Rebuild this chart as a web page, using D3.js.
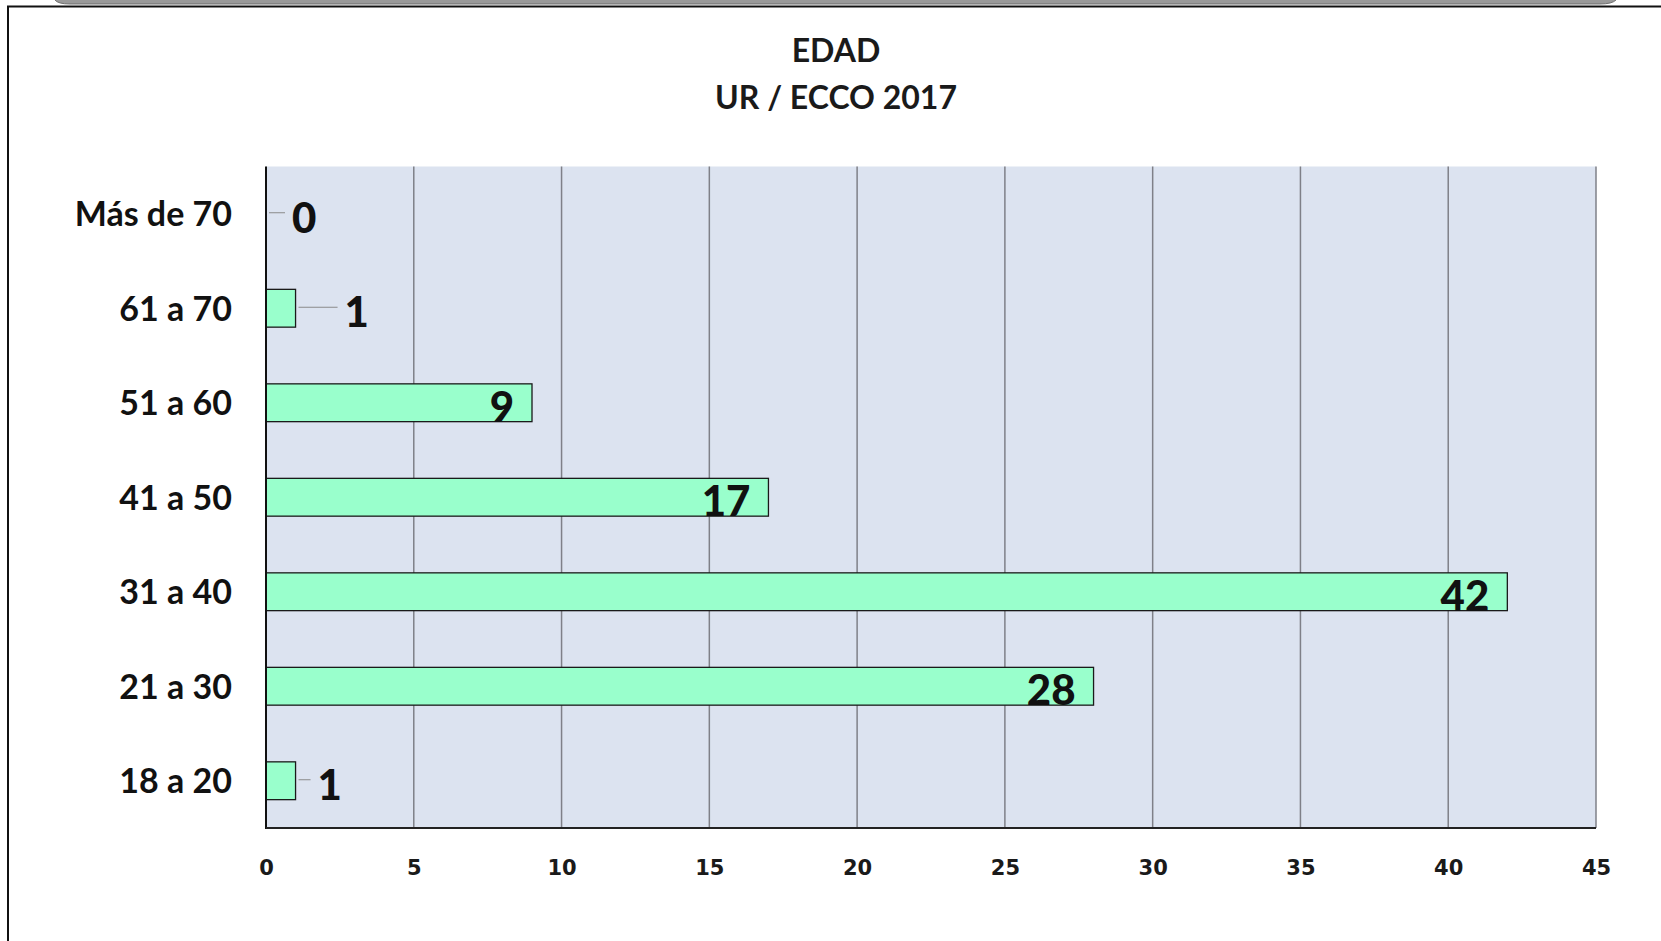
<!DOCTYPE html>
<html>
<head>
<meta charset="utf-8">
<script src="https://cdn.jsdelivr.net/npm/d3@7"></script>
<style>
  html, body { margin: 0; padding: 0; background: #ffffff; }
  svg { display: block; }
</style>
</head>
<body>
<script>
// ---- data ----
const categories = ["Más de 70", "61 a 70", "51 a 60", "41 a 50", "31 a 40", "21 a 30", "18 a 20"];
const values = [0, 1, 9, 17, 42, 28, 1];
const xTicks = [0, 5, 10, 15, 20, 25, 30, 35, 40, 45];
const titleLines = ["EDAD", "UR / ECCO 2017"];

// ---- layout ----
const W = 1661, H = 941;
const plot = { left: 266, right: 1596, top: 166.5, bottom: 828 };
const labelFont = "Lato, 'Open Sans', sans-serif";

const svg = d3.select("body").append("svg").attr("width", W).attr("height", H);

// decorative frame
svg.append("path")
  .attr("d", "M55,-10 L1616,-10 L1616,0 Q1612,4 1600,4 L70,4 Q58,4 55,0 Z")
  .attr("fill", "#9a9a9a").attr("stroke", "#6e6e6e").attr("stroke-width", 1);
svg.append("path")
  .attr("d", `M8,${H + 5} L8,6.5 L${W + 5},6.5`)
  .attr("fill", "none").attr("stroke", "#111").attr("stroke-width", 2);

const x = d3.scaleLinear().domain([0, 45]).range([plot.left, plot.right]);
const y = d3.scaleBand().domain(categories).range([plot.top, plot.bottom])
  .paddingInner(0.6).paddingOuter(0.3);

// plot background
svg.append("rect")
  .attr("x", plot.left).attr("y", plot.top)
  .attr("width", plot.right - plot.left).attr("height", plot.bottom - plot.top)
  .attr("fill", "#dce3f0");

// gridlines
svg.append("g").selectAll("line").data(xTicks.filter(t => t > 0)).join("line")
  .attr("x1", d => x(d)).attr("x2", d => x(d))
  .attr("y1", plot.top).attr("y2", plot.bottom)
  .attr("stroke", "#7f8088").attr("stroke-width", 1.5);

// x axis
const xAxis = svg.append("g")
  .attr("transform", `translate(0,${plot.bottom})`)
  .call(d3.axisBottom(x).tickValues(xTicks).tickSize(0).tickPadding(0).tickFormat(d3.format("d")));
xAxis.select(".domain").remove();
xAxis.selectAll("text")
  .attr("y", 47).attr("dy", null)
  .attr("font-family", "'DejaVu Sans', Verdana, sans-serif")
  .attr("font-weight", "bold").attr("font-size", 21).attr("fill", "#1a1a1a");

// y axis
const yAxis = svg.append("g")
  .attr("transform", `translate(${plot.left},0)`)
  .call(d3.axisLeft(y).tickSize(0).tickPadding(34));
yAxis.select(".domain").remove();
yAxis.selectAll("text")
  .attr("dy", "0.36em")
  .attr("font-family", labelFont)
  .attr("font-weight", "bold").attr("font-size", 34).attr("fill", "#111");

// bars
const rows = categories.map((c, i) => ({ cat: c, value: values[i], idx: i }));
svg.append("g").selectAll("rect").data(rows.filter(d => d.value > 0)).join("rect")
  .attr("x", x(0)).attr("y", d => y(d.cat))
  .attr("width", d => x(d.value) - x(0)).attr("height", y.bandwidth())
  .attr("fill", "#99ffcc").attr("stroke", "#1a1a1a").attr("stroke-width", 1.3);

// axis lines
svg.append("line")
  .attr("x1", plot.left).attr("x2", plot.left).attr("y1", plot.top).attr("y2", plot.bottom + 1)
  .attr("stroke", "#111").attr("stroke-width", 2);
svg.append("line")
  .attr("x1", plot.left).attr("x2", plot.right).attr("y1", plot.bottom).attr("y2", plot.bottom)
  .attr("stroke", "#222").attr("stroke-width", 2);

// value labels (outside labels use manual offsets, as in the original)
const outsideGap = { "Más de 70": 26, "61 a 70": 49, "18 a 20": 22 };
const lbl = svg.append("g");
rows.forEach(d => {
  const cy = y(d.cat) + y.bandwidth() / 2;
  const xe = x(d.value);
  if (d.value >= 5) {
    lbl.append("text")
      .attr("x", xe - 18).attr("y", cy + 19)
      .attr("text-anchor", "end")
      .attr("font-family", labelFont).attr("font-weight", "900")
      .attr("font-size", 42).attr("fill", "#111")
      .text(d.value);
  } else {
    const gap = outsideGap[d.cat] || 24;
    lbl.append("line")
      .attr("x1", xe + 3).attr("x2", xe + gap - 7)
      .attr("y1", cy - 1).attr("y2", cy - 1)
      .attr("stroke", "#8a8a8a").attr("stroke-width", 1);
    lbl.append("text")
      .attr("x", xe + gap).attr("y", cy + 19)
      .attr("font-family", labelFont).attr("font-weight", "900")
      .attr("font-size", 42).attr("fill", "#111")
      .text(d.value);
  }
});

// title
svg.append("g").selectAll("text").data(titleLines).join("text")
  .attr("x", 836).attr("y", (d, i) => 62 + i * 47)
  .attr("text-anchor", "middle")
  .attr("font-family", labelFont).attr("font-weight", "bold")
  .attr("font-size", 32).attr("fill", "#1a1a1a")
  .text(d => d);
</script>
</body>
</html>
